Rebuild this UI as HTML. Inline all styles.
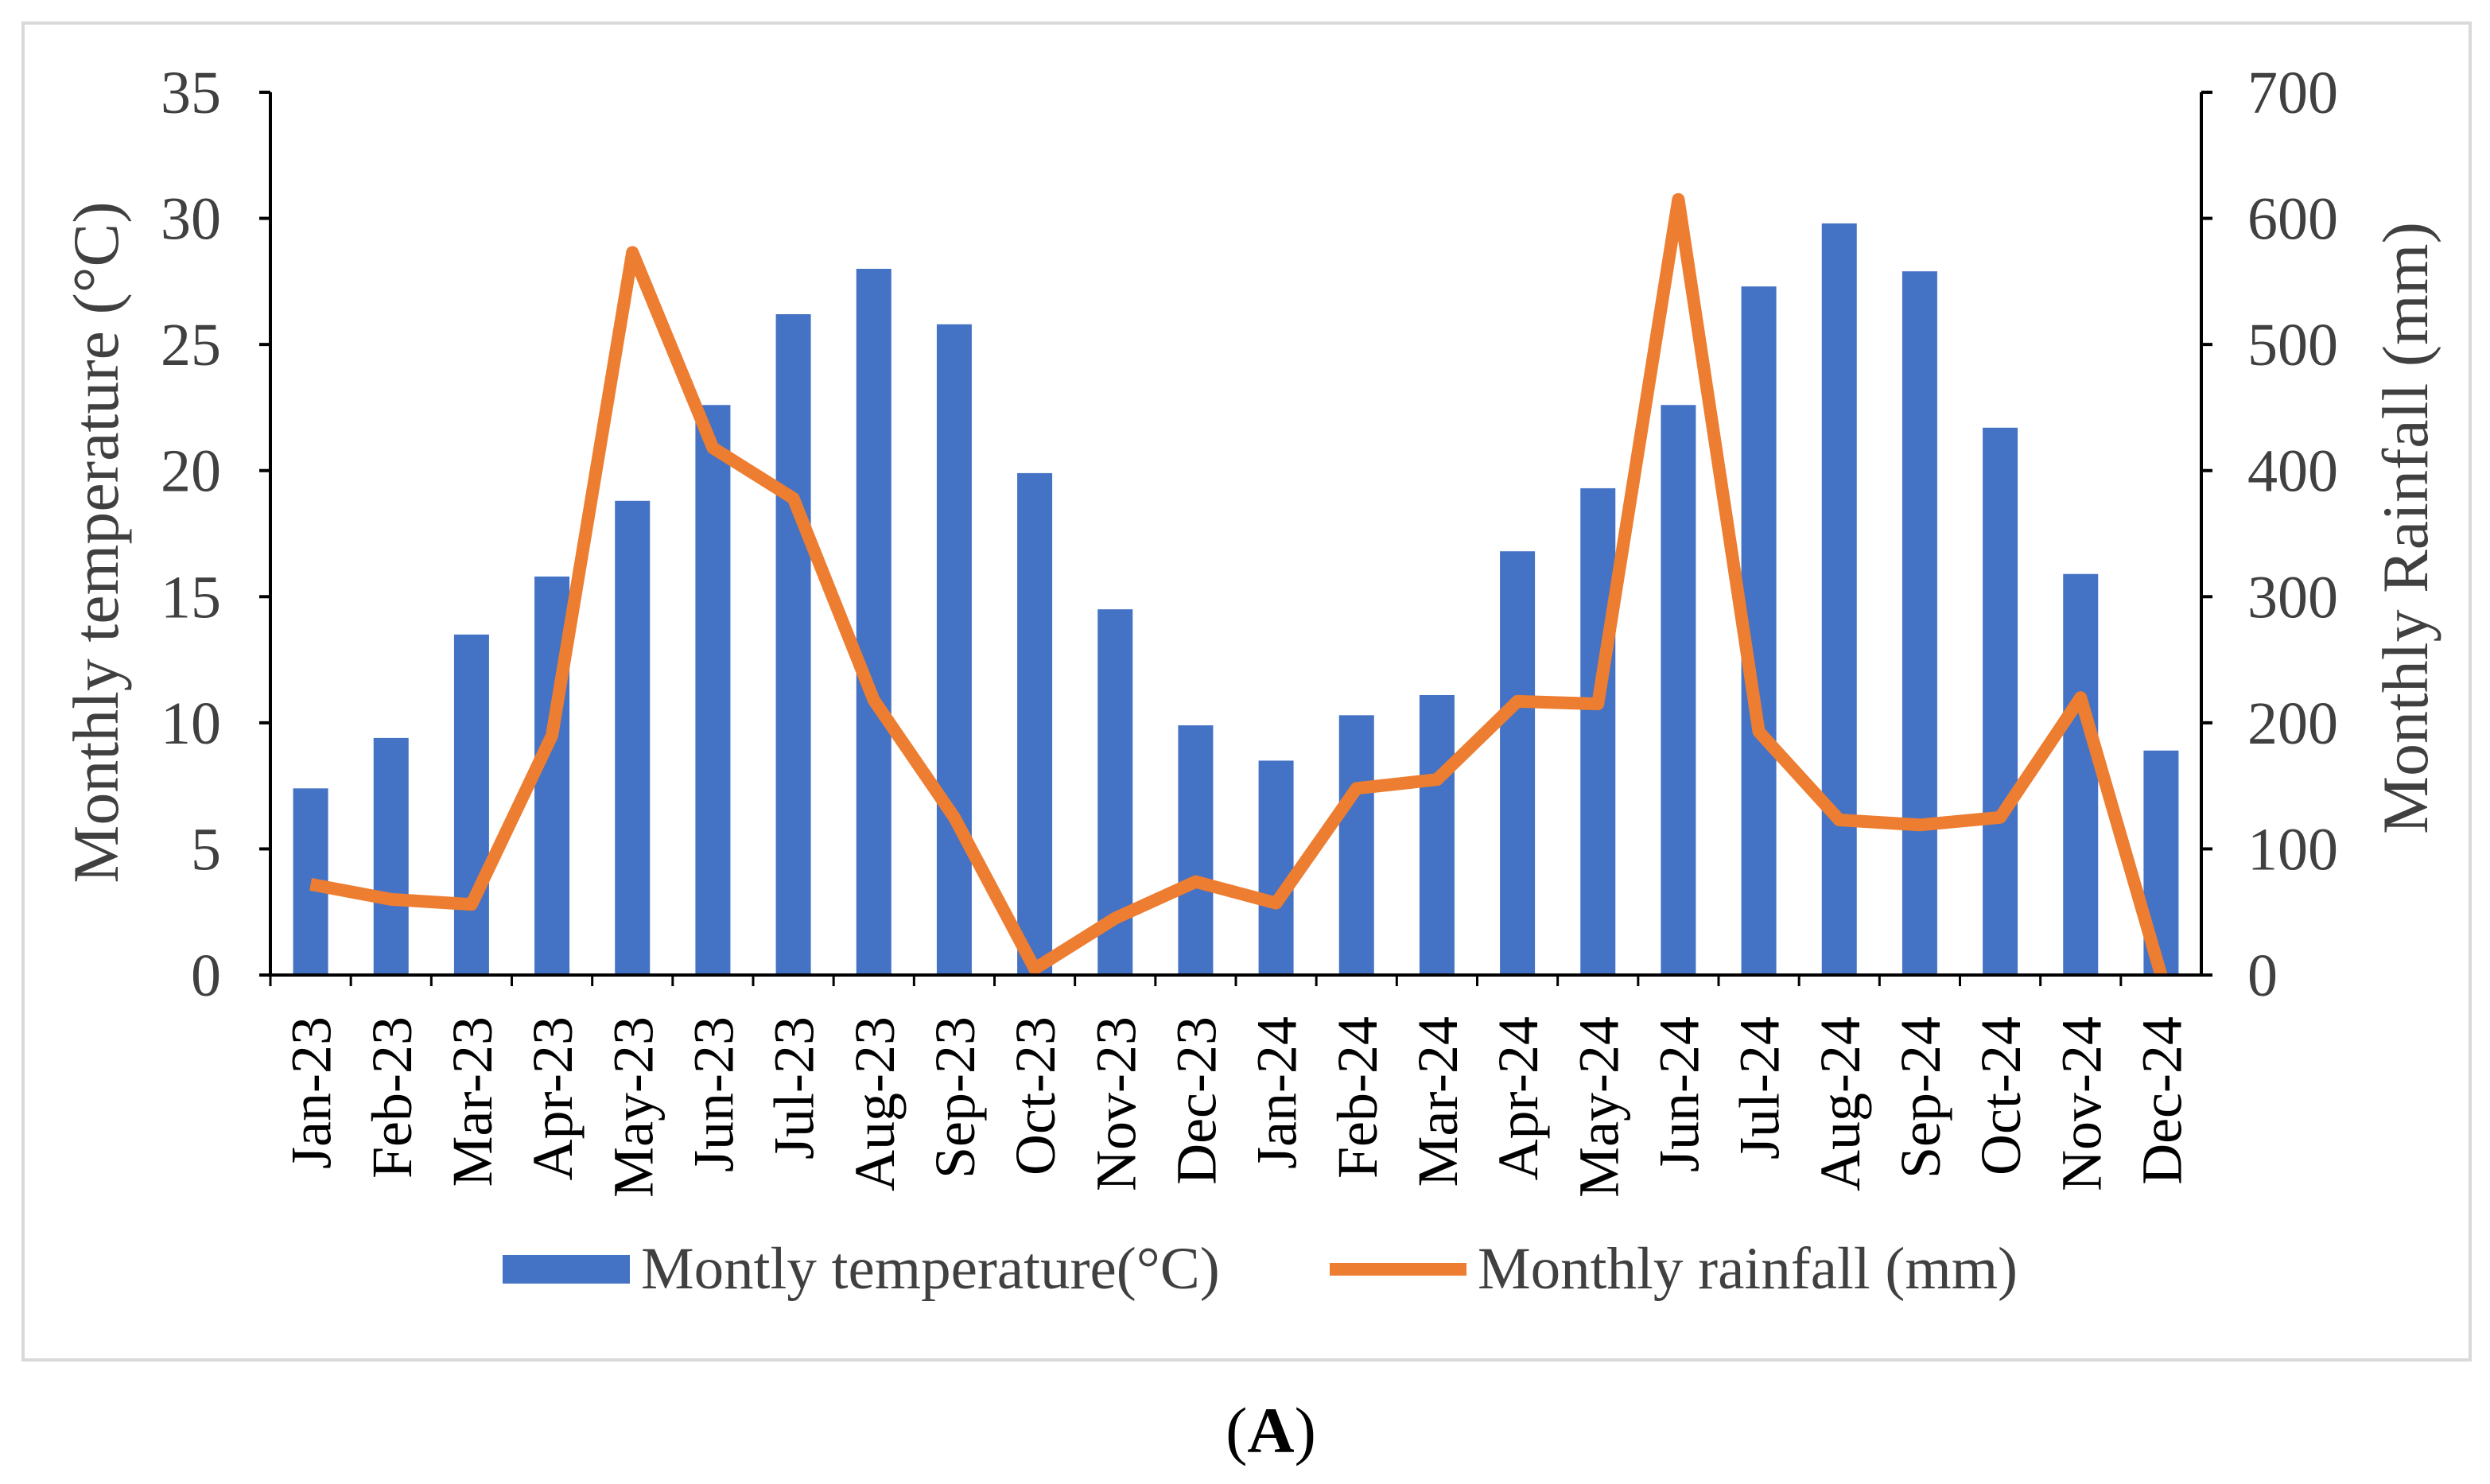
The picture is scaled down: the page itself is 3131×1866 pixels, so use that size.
<!DOCTYPE html>
<html><head><meta charset="utf-8"><style>
html,body{margin:0;padding:0;background:#fff;}
svg{display:block;font-family:"Liberation Serif",serif;}
</style></head><body>
<svg id="chart" width="3131" height="1866" viewBox="0 0 3131 1866" xmlns="http://www.w3.org/2000/svg">
<rect x="29" y="29" width="3077" height="1681" fill="#fff" stroke="#d9d9d9" stroke-width="4"/>
<g id="plot"></g>
<text x="0" y="0" transform="translate(148,682) rotate(-90)" text-anchor="middle" font-size="82" fill="#404040">Monthly temperature (°C)</text>
<text x="0" y="0" transform="translate(3052,664) rotate(-90)" text-anchor="middle" font-size="82" fill="#404040">Monthly Rainfall (mm)</text>
<g>
<rect x="632" y="1578" width="160" height="36" fill="#4472c4"/>
<text x="806" y="1620" font-size="75" fill="#404040">Montly temperature(°C)</text>
<line x1="1672" y1="1596" x2="1844" y2="1596" stroke="#ed7d31" stroke-width="16"/>
<text x="1858" y="1620" font-size="75" fill="#404040">Monthly rainfall (mm)</text>
</g>
<text x="1598" y="1826" text-anchor="middle" font-size="82" fill="#000">(<tspan font-weight="bold">A</tspan>)</text>
</svg>
<script>
const categories=["Jan-23","Feb-23","Mar-23","Apr-23","May-23","Jun-23","Jul-23","Aug-23","Sep-23","Oct-23","Nov-23","Dec-23","Jan-24","Feb-24","Mar-24","Apr-24","May-24","Jun-24","Jul-24","Aug-24","Sep-24","Oct-24","Nov-24","Dec-24"];
const temperature=[7.4,9.4,13.5,15.8,18.8,22.6,26.2,28.0,25.8,19.9,14.5,9.9,8.5,10.3,11.1,16.8,19.3,22.6,27.3,29.8,27.9,21.7,15.9,8.9];
const rainfall=[72,60,56,190,573,418,378,218,125,5,45,74,57,148,155,217,215,615,193,123,119,125,220,0];
const leftTicks=[0,5,10,15,20,25,30,35];
const rightTicks=[0,100,200,300,400,500,600,700];
const NS="http://www.w3.org/2000/svg";
const L=340,R=2768,T=116,B=1226;
const band=(R-L)/categories.length;
const xC=i=>L+band*(i+0.5);
const yL=v=>B-(v/35)*(B-T);
const yR=v=>B-(v/700)*(B-T);
const g=document.getElementById('plot');
function mk(tag,attrs){const e=document.createElementNS(NS,tag);for(const k in attrs)e.setAttribute(k,attrs[k]);g.appendChild(e);return e;}
temperature.forEach((v,i)=>{
const r=mk('rect',{x:xC(i)-22,y:yL(v),width:44,height:B-yL(v),fill:'#4472c4'});


});
let d=rainfall.map((v,i)=>(i?'L':'M')+xC(i)+','+yR(v)).join(' ');
const p=mk('path',{d:d,fill:'none',stroke:'#ed7d31','stroke-width':16,'stroke-linejoin':'round'});


const ax=mk('path',{d:`M${L},${T} L${L},${B} L${R},${B} L${R},${T}`,fill:'none',stroke:'#000','stroke-width':4});


leftTicks.forEach(v=>{
mk('line',{x1:L-14,x2:L,y1:yL(v),y2:yL(v),stroke:'#000','stroke-width':4});
const t=mk('text',{x:L-62,y:yL(v)+26,'text-anchor':'end','font-size':76,fill:'#404040'});t.textContent=v;


});
rightTicks.forEach(v=>{
mk('line',{x1:R,x2:R+14,y1:yR(v),y2:yR(v),stroke:'#000','stroke-width':4});
const t=mk('text',{x:R+58,y:yR(v)+26,'text-anchor':'start','font-size':76,fill:'#404040'});t.textContent=v;


});
categories.forEach((c,i)=>{
mk('line',{x1:L+band*i,x2:L+band*i,y1:B,y2:B+14,stroke:'#000','stroke-width':3});
const t=mk('text',{x:0,y:0,transform:`translate(${xC(i)+25},${B+52}) rotate(-90)`,'text-anchor':'end','font-size':72,fill:'#000'});t.textContent=c;


});
</script>
</body></html>
